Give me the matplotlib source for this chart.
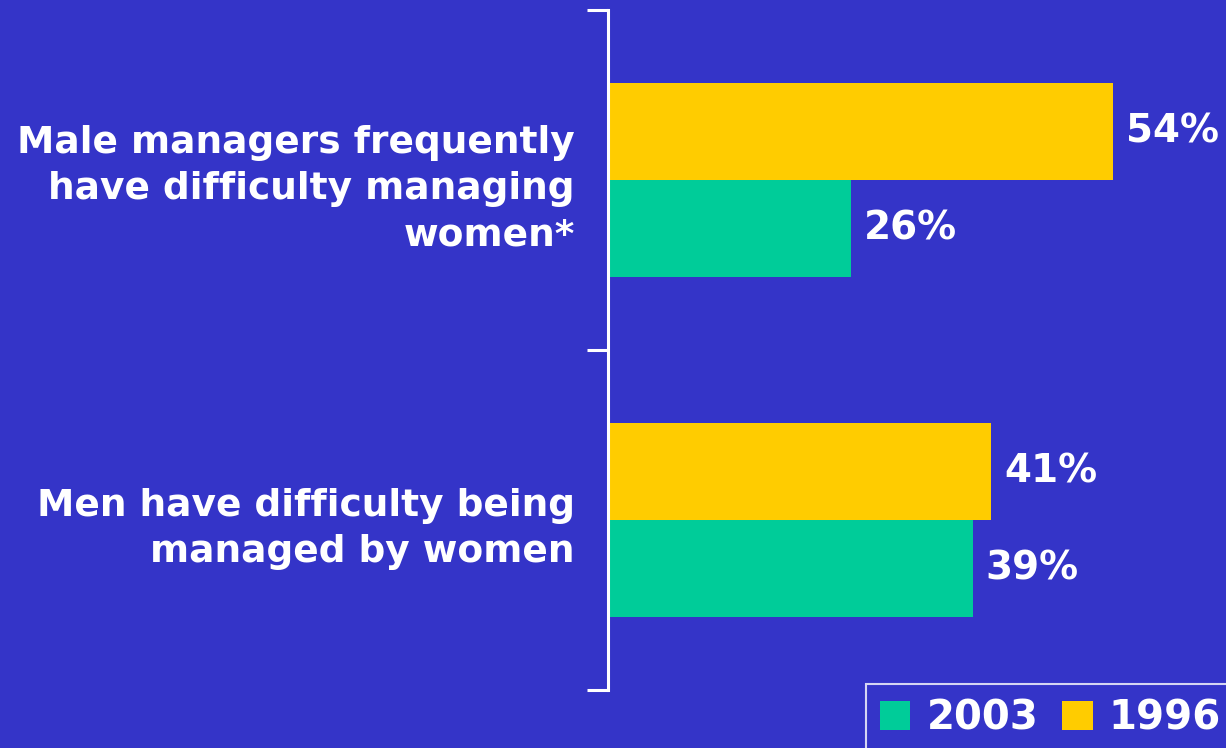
import numpy as np
import matplotlib.pyplot as plt
from matplotlib.patches import Patch

categories = ['Male managers frequently\nhave difficulty managing\nwomen*',
              'Men have difficulty being\nmanaged by women']
pct_1996 = np.asarray([54, 41])
pct_2003 = np.asarray([26, 39])

bg = '#3434c8'
yellow = '#ffcc00'
green = '#00cc99'

plt.rcParams['font.family'] = 'DejaVu Sans'
plt.rcParams['font.weight'] = 'bold'

fig = plt.figure(figsize=(12.26, 7.48), dpi=100, facecolor=bg)
ax = fig.add_axes([608 / 1226, 58 / 748, 1 - 608 / 1226, 680 / 748], facecolor=bg)

y = np.arange(len(categories))
h = 0.285
ax.barh(y - h / 2, pct_1996, height=h, color=yellow, align='center')
ax.barh(y + h / 2, pct_2003, height=h, color=green, align='center')

for yi, v in zip(y - h / 2, pct_1996):
    ax.text(v + 1.4, yi, f'{v}%', va='center', ha='left', color='white',
            fontsize=28, fontweight='bold')
for yi, v in zip(y + h / 2, pct_2003):
    ax.text(v + 1.4, yi, f'{v}%', va='center', ha='left', color='white',
            fontsize=28, fontweight='bold')

ax.set_xlim(0, 66.1)
ax.set_ylim(1.5, -0.5)
ax.set_xticks([])
ax.set_yticks(y)
ax.set_yticklabels(categories, color='white', fontsize=27, fontweight='bold',
                   ha='right', linespacing=1.36)
ax.tick_params(axis='y', which='major', length=0, pad=24)
ax.set_yticks([-0.5, 0.5, 1.5], minor=True)
ax.tick_params(axis='y', which='minor', length=15, width=2.2, color='white')
for s in ['top', 'right', 'bottom']:
    ax.spines[s].set_visible(False)
ax.spines['left'].set_color('white')
ax.spines['left'].set_linewidth(2.2)

handles = [Patch(facecolor=green, label='2003'), Patch(facecolor=yellow, label='1996')]
leg = fig.legend(handles=handles, loc='lower left', bbox_to_anchor=(866 / 1226, -0.006),
                 ncol=2, frameon=True, fancybox=False,
                 prop={'weight': 'bold', 'size': 29},
                 handlelength=0.75, handleheight=0.75, handletextpad=0.4,
                 columnspacing=0.6, borderpad=0.35, borderaxespad=0)
leg.get_frame().set_facecolor(bg)
leg.get_frame().set_edgecolor('white')
leg.get_frame().set_linewidth(1.5)
for t in leg.get_texts():
    t.set_color('white')

fig.savefig('out.png', dpi=100, facecolor=bg)
